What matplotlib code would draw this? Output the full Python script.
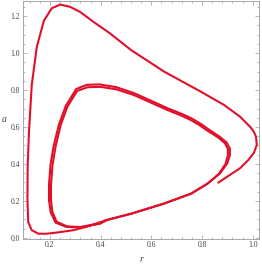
import matplotlib.pyplot as plt
from matplotlib.ticker import MultipleLocator

# trajectory: outer approach, then two revolutions on the cycle
outer_r = [0.864, 0.910, 0.950, 0.983, 1.005, 1.016, 1.013, 1.003, 0.989, 0.950,
           0.887, 0.790, 0.651, 0.520, 0.437, 0.371, 0.318, 0.279, 0.240, 0.207,
           0.176, 0.148, 0.128, 0.117, 0.112, 0.111, 0.114, 0.128, 0.154, 0.187,
           0.226, 0.292, 0.345]
outer_a = [0.299, 0.341, 0.377, 0.422, 0.461, 0.503, 0.548, 0.578, 0.602, 0.656,
           0.719, 0.795, 0.899, 1.016, 1.106, 1.169, 1.223, 1.250, 1.262, 1.242,
           1.175, 1.034, 0.827, 0.573, 0.393, 0.212, 0.086, 0.042, 0.023, 0.023,
           0.029, 0.042, 0.061]

loop1_r = [0.345, 0.424, 0.520, 0.650, 0.756, 0.822, 0.870, 0.899, 0.910, 0.910,
           0.897, 0.868, 0.825, 0.795, 0.758, 0.720, 0.663, 0.597, 0.530, 0.460,
           0.397, 0.345, 0.303, 0.262, 0.235, 0.214, 0.202, 0.196, 0.196, 0.203,
           0.222, 0.264, 0.318, 0.397, 0.424]
loop1_a = [0.061, 0.097, 0.131, 0.186, 0.239, 0.294, 0.348, 0.402, 0.447, 0.483,
           0.516, 0.549, 0.588, 0.617, 0.647, 0.671, 0.702, 0.743, 0.784, 0.816,
           0.830, 0.828, 0.805, 0.713, 0.612, 0.494, 0.395, 0.286, 0.205, 0.138,
           0.083, 0.060, 0.057, 0.077, 0.097]

loop2_r = [0.424, 0.520, 0.650, 0.756, 0.821, 0.866, 0.893, 0.902, 0.902, 0.890,
           0.862, 0.819, 0.790, 0.754, 0.716, 0.660, 0.595, 0.529, 0.461, 0.399,
           0.348, 0.307, 0.268, 0.242, 0.222, 0.210, 0.204, 0.204, 0.209, 0.226,
           0.266, 0.318, 0.397, 0.424]
loop2_a = [0.097, 0.131, 0.186, 0.239, 0.293, 0.346, 0.401, 0.447, 0.482, 0.513,
           0.545, 0.582, 0.610, 0.639, 0.663, 0.694, 0.734, 0.774, 0.804, 0.817,
           0.815, 0.795, 0.708, 0.610, 0.494, 0.396, 0.288, 0.208, 0.142, 0.088,
           0.063, 0.059, 0.079, 0.097]

x_ticks = [0.2, 0.4, 0.6, 0.8, 1.0]
y_ticks = [0.0, 0.2, 0.4, 0.6, 0.8, 1.0, 1.2]

red = "#e0102a"
grey = "#9a9a9a"

fig = plt.figure(figsize=(2.62, 2.65), dpi=100)
ax = fig.add_axes([22.7 / 262, 26.3 / 265, 236.6 / 262, 238.2 / 265])

for rr, aa in [(outer_r, outer_a), (loop1_r, loop1_a), (loop2_r, loop2_a)]:
    ax.plot(rr, aa, color=red, lw=1.5, solid_joinstyle="round", solid_capstyle="round")

ax.set_xlim(0.0923, 1.026)
ax.set_ylim(-0.004, 1.284)
ax.set_xticks(x_ticks)
ax.set_yticks(y_ticks)
ax.set_xticklabels([f"{v:.1f}" for v in x_ticks])
ax.set_yticklabels([f"{v:.1f}" for v in y_ticks])
ax.xaxis.set_minor_locator(MultipleLocator(0.04))
ax.yaxis.set_minor_locator(MultipleLocator(0.05))

ax.tick_params(which="both", direction="in", top=True, right=True, color=grey,
               width=0.5, labelsize=5.5, labelcolor="#444444", pad=2)
ax.tick_params(which="major", length=3)
ax.tick_params(which="minor", length=1.6)
for lab in ax.get_xticklabels() + ax.get_yticklabels():
    lab.set_family("Liberation Serif")
for sp in ax.spines.values():
    sp.set_color(grey)
    sp.set_linewidth(0.6)

fig.text(141.7 / 262, 1 - 259 / 265, "r", family="Liberation Serif", style="italic",
         fontsize=7, color="#444444", ha="center", va="center")
fig.text(4 / 262, 1 - 120 / 265, "a", family="Liberation Serif", style="italic",
         fontsize=7, color="#444444", ha="center", va="center")

fig.savefig("out.png", dpi=100)
